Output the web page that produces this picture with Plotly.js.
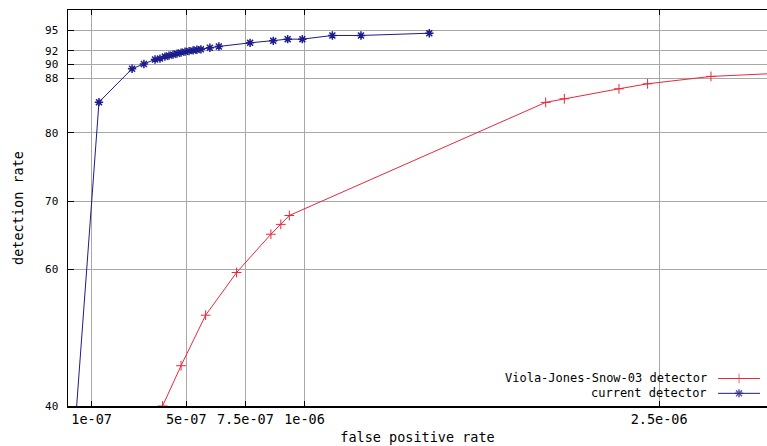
<!DOCTYPE html>
<html>
<head>
<meta charset="utf-8">
<script src="https://cdn.plot.ly/plotly-3.0.1.min.js"></script>
<style>html,body{margin:0;padding:0;background:#fff;overflow:hidden}#chart{width:767px;height:446px}</style>
</head>
<body>
<div id="chart"></div>
<script>
// Viola-Jones-Snow-03 detector
const vjFpr = [4.0e-7, 4.78e-7, 5.82e-7, 7.13e-7, 8.58e-7, 9.0e-7, 9.36e-7, 2.02e-6, 2.099e-6, 2.33e-6, 2.451e-6, 2.719e-6, 3.0e-6];
const vjDet = [40.0, 45.9, 53.3, 59.55, 65.16, 66.6, 67.9, 84.47, 85.0, 86.46, 87.19, 88.27, 88.72];

// current detector
const curFpr = [2.6e-8, 1.31e-7, 2.71e-7, 3.21e-7, 3.68e-7, 3.89e-7, 4.10e-7, 4.27e-7, 4.44e-7, 4.61e-7, 4.78e-7, 4.95e-7, 5.12e-7, 5.29e-7, 5.45e-7, 5.62e-7, 6.00e-7, 6.38e-7, 7.7e-7, 8.68e-7, 9.29e-7, 9.91e-7, 1.118e-6, 1.239e-6, 1.528e-6];
const curDet = [35.0, 84.5, 89.4, 90.1, 90.76, 90.88, 91.17, 91.32, 91.46, 91.61, 91.76, 91.90, 91.98, 92.08, 92.17, 92.24, 92.46, 92.66, 93.19, 93.48, 93.73, 93.73, 94.27, 94.27, 94.6];

const xTickVals = [1e-7, 5e-7, 7.5e-7, 1e-6, 2.5e-6];
const xTickText = ['1e-07', '5e-07', '7.5e-07', '1e-06', '2.5e-06'];
const yTickVals = [40, 60, 70, 80, 88, 90, 92, 95];
const yTickText = ['40', '60', '70', '80', '88', '90', '92', '95'];

const seriesNames = ['Viola-Jones-Snow-03 detector', 'current detector'];
const redColor = '#e8283c';
const blueColor = '#1c1c8c';

const FONT = 'DejaVu Sans Mono, Liberation Mono, monospace';
const FS = 13.5;
const FS_Y = 11;
const FS_LEG = 12;

const traces = [
  {
    x: vjFpr, y: vjDet, mode: 'lines+markers', name: seriesNames[0],
    line: {color: redColor, width: 1},
    marker: {symbol: 'cross-thin-open', size: 7, color: redColor, line: {color: redColor, width: 1}},
    cliponaxis: true, showlegend: false
  },
  {
    x: curFpr, y: curDet, mode: 'lines+markers', name: seriesNames[1],
    line: {color: blueColor, width: 1},
    marker: {symbol: 'asterisk-open', size: 7, color: blueColor, line: {color: blueColor, width: 1.5}},
    cliponaxis: true, showlegend: false
  },
  // legend samples (drawn on a hidden 0..1 overlay axis)
  {
    x: [0.930, 0.960, 0.990], y: [0.0695, 0.0695, 0.0695], xaxis: 'x2', yaxis: 'y2',
    mode: 'lines+markers', hoverinfo: 'skip', showlegend: false,
    line: {color: redColor, width: 1},
    marker: {symbol: 'cross-thin-open', size: [0, 7, 0], color: redColor, line: {color: redColor, width: 1}}
  },
  {
    x: [0.930, 0.960, 0.990], y: [0.032, 0.032, 0.032], xaxis: 'x2', yaxis: 'y2',
    mode: 'lines+markers', hoverinfo: 'skip', showlegend: false,
    line: {color: blueColor, width: 1},
    marker: {symbol: 'asterisk-open', size: [0, 7, 0], color: blueColor, line: {color: blueColor, width: 1.5}}
  }
];

const layout = {
  width: 767, height: 446,
  margin: {l: 68, r: 0, t: 10, b: 40},
  paper_bgcolor: '#ffffff', plot_bgcolor: '#ffffff',
  font: {family: FONT, size: FS, color: '#000'},
  showlegend: false,
  xaxis: {
    range: [0, 2.956e-6],
    tickmode: 'array', tickvals: xTickVals, ticktext: xTickText,
    ticks: 'inside', ticklen: 5, tickcolor: '#000', tickwidth: 1,
    showgrid: true, gridcolor: '#a8a8a8', gridwidth: 1,
    showline: true, linecolor: '#000', linewidth: 1.5, mirror: 'ticks',
    zeroline: false,
    tickfont: {family: FONT, size: FS, color: '#000'},
    title: {text: 'false positive rate', font: {family: FONT, size: FS, color: '#000'}, standoff: 7}
  },
  yaxis: {
    range: [40, 98],
    tickmode: 'array', tickvals: yTickVals, ticktext: yTickText,
    ticks: 'inside', ticklen: 6, tickcolor: '#000', tickwidth: 1,
    ticklabelstandoff: 6,
    showgrid: true, gridcolor: '#a8a8a8', gridwidth: 1,
    showline: true, linecolor: '#000', linewidth: 1.5, mirror: false,
    zeroline: false,
    tickfont: {family: FONT, size: FS_Y, color: '#000'},
    title: {text: 'detection rate', font: {family: FONT, size: FS, color: '#000'}, standoff: 18}
  },
  xaxis2: {overlaying: 'x', range: [0, 1], visible: false, fixedrange: true},
  yaxis2: {overlaying: 'y', range: [0, 1], visible: false, fixedrange: true},
  annotations: [
    {xref: 'paper', yref: 'paper', x: 0.9156, y: 0.0695, xanchor: 'right', yanchor: 'middle',
     text: seriesNames[0], showarrow: false, borderpad: 0, font: {family: FONT, size: FS_LEG, color: '#000'}},
    {xref: 'paper', yref: 'paper', x: 0.9156, y: 0.032, xanchor: 'right', yanchor: 'middle',
     text: seriesNames[1], showarrow: false, borderpad: 0, font: {family: FONT, size: FS_LEG, color: '#000'}}
  ]
};

Plotly.newPlot('chart', traces, layout, {displayModeBar: false, staticPlot: true});
</script>
</body>
</html>
